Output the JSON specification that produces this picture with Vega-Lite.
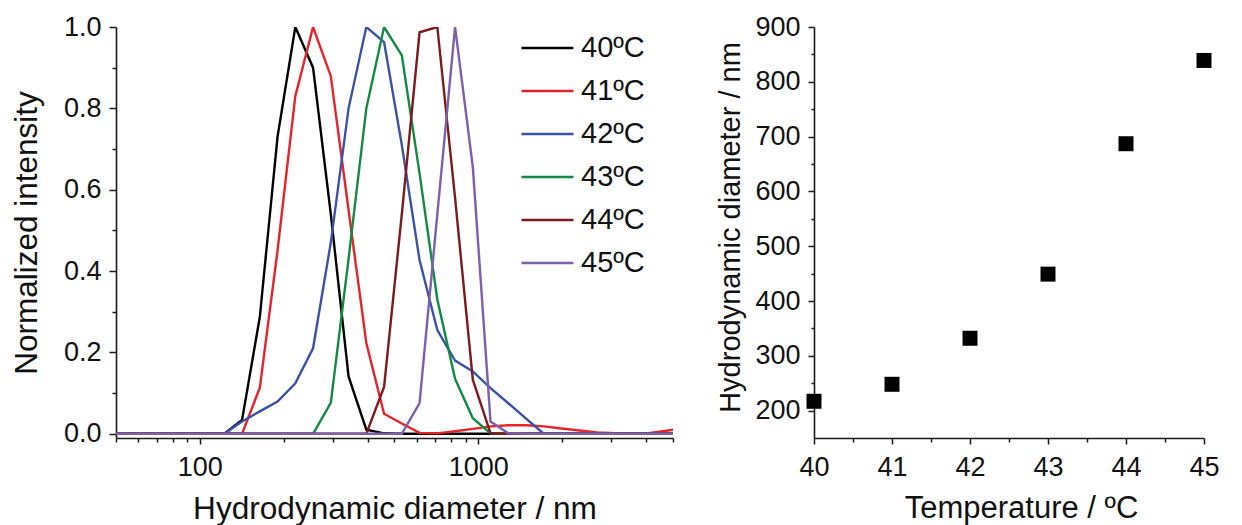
{
  "$schema": "https://vega.github.io/schema/vega-lite/v6.json",
  "padding": {"left": 11, "top": 13, "right": 5, "bottom": 0},
  "background": "white",
  "config": {
    "font": "Liberation Sans",
    "view": {"stroke": null},
    "axis": {
      "grid": false,
      "domainColor": "#1a1a1a",
      "domainWidth": 1.6,
      "tickColor": "#1a1a1a",
      "tickWidth": 1.5,
      "labelFont": "Liberation Sans",
      "labelFontSize": 27,
      "labelColor": "#111111",
      "titleFont": "Liberation Sans",
      "titleFontWeight": "normal",
      "titleColor": "#111111",
      "labelOverlap": false,
      "labelFlush": false
    }
  },
  "datasets": {
    "dls": [
      {"T": "40ºC", "d": 43.82, "v": 0}, {"T": "40ºC", "d": 122.4, "v": 0}, {"T": "40ºC", "d": 141.8, "v": 0.034}, {"T": "40ºC", "d": 164.2, "v": 0.287}, {"T": "40ºC", "d": 190.1, "v": 0.73}, {"T": "40ºC", "d": 220.2, "v": 1.0}, {"T": "40ºC", "d": 255.0, "v": 0.9}, {"T": "40ºC", "d": 295.3, "v": 0.54}, {"T": "40ºC", "d": 342.0, "v": 0.141}, {"T": "40ºC", "d": 396.1, "v": 0.01}, {"T": "40ºC", "d": 458.7, "v": 0.001}, {"T": "40ºC", "d": 531.2, "v": 0}, {"T": "40ºC", "d": 5560, "v": 0},
      {"T": "41ºC", "d": 43.82, "v": 0}, {"T": "41ºC", "d": 141.8, "v": 0}, {"T": "41ºC", "d": 164.2, "v": 0.113}, {"T": "41ºC", "d": 190.1, "v": 0.45}, {"T": "41ºC", "d": 220.2, "v": 0.83}, {"T": "41ºC", "d": 255.0, "v": 1.0}, {"T": "41ºC", "d": 295.3, "v": 0.879}, {"T": "41ºC", "d": 342.0, "v": 0.55}, {"T": "41ºC", "d": 396.1, "v": 0.223}, {"T": "41ºC", "d": 458.7, "v": 0.049}, {"T": "41ºC", "d": 531.2, "v": 0.025}, {"T": "41ºC", "d": 615.1, "v": 0.002}, {"T": "41ºC", "d": 712.4, "v": 0.001}, {"T": "41ºC", "d": 825.0, "v": 0.006}, {"T": "41ºC", "d": 955.4, "v": 0.012}, {"T": "41ºC", "d": 1106, "v": 0.018}, {"T": "41ºC", "d": 1281, "v": 0.021}, {"T": "41ºC", "d": 1484, "v": 0.021}, {"T": "41ºC", "d": 1718, "v": 0.018}, {"T": "41ºC", "d": 1990, "v": 0.013}, {"T": "41ºC", "d": 2305, "v": 0.008}, {"T": "41ºC", "d": 2669, "v": 0.003}, {"T": "41ºC", "d": 3091, "v": 0.001}, {"T": "41ºC", "d": 3580, "v": 0}, {"T": "41ºC", "d": 4145, "v": 0.002}, {"T": "41ºC", "d": 4801, "v": 0.008}, {"T": "41ºC", "d": 5560, "v": 0.014},
      {"T": "42ºC", "d": 43.82, "v": 0}, {"T": "42ºC", "d": 122.4, "v": 0}, {"T": "42ºC", "d": 141.8, "v": 0.03}, {"T": "42ºC", "d": 164.2, "v": 0.055}, {"T": "42ºC", "d": 190.1, "v": 0.079}, {"T": "42ºC", "d": 220.2, "v": 0.124}, {"T": "42ºC", "d": 255.0, "v": 0.21}, {"T": "42ºC", "d": 295.3, "v": 0.47}, {"T": "42ºC", "d": 342.0, "v": 0.8}, {"T": "42ºC", "d": 396.1, "v": 1.0}, {"T": "42ºC", "d": 458.7, "v": 0.963}, {"T": "42ºC", "d": 531.2, "v": 0.71}, {"T": "42ºC", "d": 615.1, "v": 0.427}, {"T": "42ºC", "d": 712.4, "v": 0.255}, {"T": "42ºC", "d": 825.0, "v": 0.18}, {"T": "42ºC", "d": 955.4, "v": 0.153}, {"T": "42ºC", "d": 1106, "v": 0.112}, {"T": "42ºC", "d": 1281, "v": 0.075}, {"T": "42ºC", "d": 1484, "v": 0.037}, {"T": "42ºC", "d": 1718, "v": 0}, {"T": "42ºC", "d": 5560, "v": 0},
      {"T": "43ºC", "d": 43.82, "v": 0}, {"T": "43ºC", "d": 255.0, "v": 0}, {"T": "43ºC", "d": 295.3, "v": 0.076}, {"T": "43ºC", "d": 342.0, "v": 0.43}, {"T": "43ºC", "d": 396.1, "v": 0.8}, {"T": "43ºC", "d": 458.7, "v": 1.0}, {"T": "43ºC", "d": 531.2, "v": 0.93}, {"T": "43ºC", "d": 615.1, "v": 0.64}, {"T": "43ºC", "d": 712.4, "v": 0.33}, {"T": "43ºC", "d": 825.0, "v": 0.135}, {"T": "43ºC", "d": 955.4, "v": 0.038}, {"T": "43ºC", "d": 1106, "v": 0.001}, {"T": "43ºC", "d": 1281, "v": 0}, {"T": "43ºC", "d": 5560, "v": 0},
      {"T": "44ºC", "d": 43.82, "v": 0}, {"T": "44ºC", "d": 396.1, "v": 0}, {"T": "44ºC", "d": 458.7, "v": 0.115}, {"T": "44ºC", "d": 531.2, "v": 0.54}, {"T": "44ºC", "d": 615.1, "v": 0.987}, {"T": "44ºC", "d": 712.4, "v": 1.0}, {"T": "44ºC", "d": 825.0, "v": 0.58}, {"T": "44ºC", "d": 955.4, "v": 0.133}, {"T": "44ºC", "d": 1106, "v": 0.001}, {"T": "44ºC", "d": 1281, "v": 0}, {"T": "44ºC", "d": 5560, "v": 0},
      {"T": "45ºC", "d": 43.82, "v": 0}, {"T": "45ºC", "d": 531.2, "v": 0}, {"T": "45ºC", "d": 615.1, "v": 0.075}, {"T": "45ºC", "d": 712.4, "v": 0.54}, {"T": "45ºC", "d": 825.0, "v": 1.0}, {"T": "45ºC", "d": 955.4, "v": 0.656}, {"T": "45ºC", "d": 1106, "v": 0.03}, {"T": "45ºC", "d": 1281, "v": 0.001}, {"T": "45ºC", "d": 1484, "v": 0}, {"T": "45ºC", "d": 5560, "v": 0}
    ],
    "size": [
      {"t": 40, "dh": 217}, {"t": 41, "dh": 248}, {"t": 42, "dh": 332}, {"t": 43, "dh": 449}, {"t": 44, "dh": 687}, {"t": 45, "dh": 839}
    ]
  },
  "spacing": 42,
  "hconcat": [
    {
      "width": 557,
      "height": 411,
      "data": {"name": "dls"},
      "mark": {"type": "line", "strokeWidth": 2.4, "clip": true},
      "encoding": {
        "x": {
          "field": "d", "type": "quantitative",
          "scale": {"type": "log", "domain": [50, 5000], "nice": false},
          "axis": {
            "title": "Hydrodynamic diameter / nm",
            "titleFontSize": 31.6,
            "titlePadding": 13,
            "values": [50, 60, 70, 80, 90, 100, 200, 300, 400, 500, 600, 700, 800, 900, 1000, 2000, 3000, 4000, 5000],
            "labelExpr": "(datum.value == 100 || datum.value == 1000) ? format(datum.value, 'd') : ''",
            "tickSize": {"condition": {"test": "datum.value == 100 || datum.value == 1000", "value": 6}, "value": 4},
            "labelPadding": 10
          }
        },
        "y": {
          "field": "v", "type": "quantitative",
          "scale": {"domain": [-0.0105, 1], "nice": false, "zero": false},
          "axis": {
            "title": "Normalized intensity",
            "titleFontSize": 31.5,
            "titlePadding": 20,
            "values": [0, 0.1, 0.2, 0.3, 0.4, 0.5, 0.6, 0.7, 0.8, 0.9, 1.0],
            "labelExpr": "(round(datum.value * 10) % 2 == 0) ? format(datum.value, '.1f') : ''",
            "tickSize": {"condition": {"test": "round(datum.value * 10) % 2 == 0", "value": 7}, "value": 4},
            "labelPadding": 8
          }
        },
        "color": {
          "field": "T", "type": "nominal",
          "scale": {
            "domain": ["40ºC", "41ºC", "42ºC", "43ºC", "44ºC", "45ºC"],
            "range": ["#000000", "#e3242b", "#3b53a4", "#138a43", "#7b1a1f", "#7d60ab"]
          },
          "legend": {
            "title": null,
            "orient": "none",
            "legendX": 404,
            "legendY": -6.5,
            "padding": 0,
            "symbolType": "stroke",
            "symbolSize": 2704,
            "symbolStrokeWidth": 2.5,
            "labelFontSize": 29,
            "labelFont": "Liberation Sans",
            "labelColor": "#111111",
            "labelOffset": 6,
            "rowPadding": -0.6
          }
        }
      }
    },
    {
      "width": 390,
      "height": 411,
      "data": {"name": "size"},
      "mark": {"type": "square", "size": 225, "color": "#000000", "opacity": 1, "filled": true, "clip": false},
      "encoding": {
        "x": {
          "field": "t", "type": "quantitative",
          "scale": {"domain": [40, 45], "nice": false, "zero": false},
          "axis": {
            "title": "Temperature / ºC",
            "titleFontSize": 31,
            "titlePadding": 13,
            "titleX": 207,
            "values": [40, 40.5, 41, 41.5, 42, 42.5, 43, 43.5, 44, 44.5, 45],
            "labelExpr": "(datum.value % 1 == 0) ? format(datum.value, 'd') : ''",
            "tickSize": {"condition": {"test": "datum.value % 1 == 0", "value": 6}, "value": 4},
            "labelPadding": 10
          }
        },
        "y": {
          "field": "dh", "type": "quantitative",
          "scale": {"domain": [150, 900], "nice": false, "zero": false},
          "axis": {
            "title": "Hydrodynamic diameter / nm",
            "titleFontSize": 29,
            "titlePadding": 9,
            "titleY": 200,
            "values": [200, 250, 300, 350, 400, 450, 500, 550, 600, 650, 700, 750, 800, 850, 900],
            "labelExpr": "(datum.value % 100 == 0) ? format(datum.value, 'd') : ''",
            "tickSize": {"condition": {"test": "datum.value % 100 == 0", "value": 6}, "value": 3},
            "labelPadding": 8
          }
        }
      }
    }
  ]
}
